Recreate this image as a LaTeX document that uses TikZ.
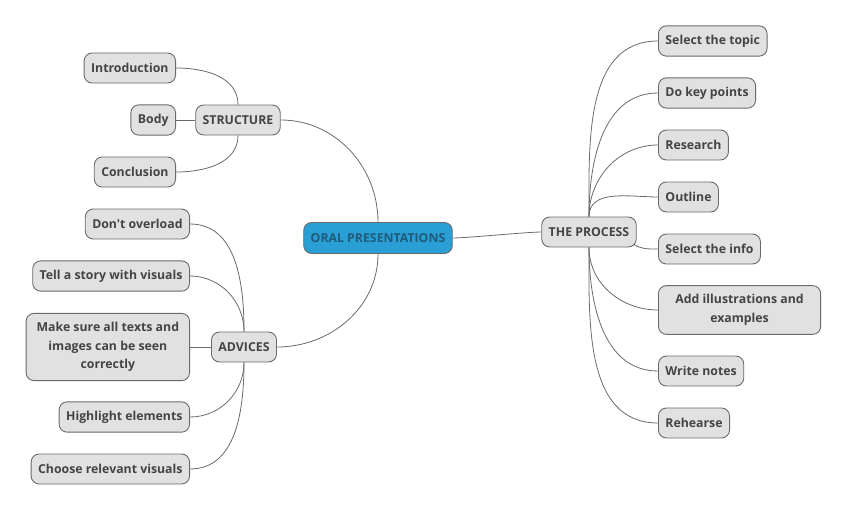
\documentclass[tikz,border=0pt]{standalone}
\usepackage{fontspec}
\setmainfont{Open Sans}[Ligatures=TeXOff]
\usepackage{tikz}
\usetikzlibrary{arrows}

\definecolor{topicblue}{HTML}{2A9FD6}
\definecolor{topictext}{HTML}{1F5B7A}
\definecolor{leafgray}{HTML}{E1E1E1}
\definecolor{edgegray}{HTML}{6A6A6A}
\definecolor{textgray}{HTML}{444444}

\begin{document}
\begin{tikzpicture}[x=1pt,y=-1pt,
  topic/.style={draw=edgegray,line width=0.9pt,fill=topicblue,rounded corners=8pt,
    text=topictext,font=\bfseries\fontsize{12.3}{14}\selectfont,minimum height=31pt,inner xsep=7pt},
  leaf/.style={draw=edgegray,line width=0.9pt,fill=leafgray,rounded corners=8pt,
    text=textgray,font=\bfseries\fontsize{12.3}{18.5}\selectfont,minimum height=30pt,
    inner xsep=7pt,inner ysep=9pt,align=center},
  link/.style={draw=edgegray,line width=0.8pt}]
  \useasboundingbox (0,0) rectangle (848,511);
  % center and main branches
  \node[topic] (oral) at (378,238) {ORAL PRESENTATIONS};
  \node[leaf] (proc) at (589,232) {THE PROCESS};
  \node[leaf] (struct) at (238,120) {STRUCTURE};
  \node[leaf] (adv) at (244,347) {ADVICES};
  % structure
  \node[leaf,anchor=east] (intro) at (176,68) {Introduction};
  \node[leaf,anchor=east] (body) at (176,120) {Body};
  \node[leaf,anchor=east] (concl) at (176,172) {Conclusion};
  % advices
  \node[leaf,anchor=east] (overload) at (190,224) {Don't overload};
  \node[leaf,anchor=east] (story) at (190,276) {Tell a story with visuals};
  \node[leaf,anchor=east,inner xsep=10.5pt] (makesure) at (190,347) {Make sure all texts and\\images can be seen\\correctly};
  \node[leaf,anchor=east] (highlight) at (190,417) {Highlight elements};
  \node[leaf,anchor=east] (choose) at (190,469) {Choose relevant visuals};
  % the process
  \node[leaf,anchor=west] (topicsel) at (658,41) {Select the topic};
  \node[leaf,anchor=west] (keypts) at (658,93) {Do key points};
  \node[leaf,anchor=west] (research) at (658,145) {Research};
  \node[leaf,anchor=west] (outline) at (658,197) {Outline};
  \node[leaf,anchor=west] (info) at (658,249) {Select the info};
  \node[leaf,anchor=west,inner xsep=17pt] (illus) at (658,310) {Add illustrations and\\examples};
  \node[leaf,anchor=west] (notes) at (658,371) {Write notes};
  \node[leaf,anchor=west] (rehearse) at (658,423) {Rehearse};

  \draw[link] (oral.east) to[out=0,in=180,looseness=0.4] (proc.west);
  \draw[link] (oral.north) to[out=90,in=0] (struct.east);
  \draw[link] (oral.south) to[out=-90,in=0] (adv.east);

  \draw[link] (struct.north) to[out=90,in=0] (intro.east);
  \draw[link] (struct.west) -- (body.east);
  \draw[link] (struct.south) to[out=-90,in=0] (concl.east);

  \draw[link] (adv.north) to[out=90,in=0] (overload.east);
  \draw[link] (adv.north) to[out=90,in=0] (story.east);
  \draw[link] (adv.west) -- (makesure.east);
  \draw[link] (adv.south) to[out=-90,in=0] (highlight.east);
  \draw[link] (adv.south) to[out=-90,in=0] (choose.east);

  \foreach \n in {topicsel,keypts,research,outline}
    \draw[link] (proc.north) to[out=90,in=180] (\n.west);
  \draw[link] (proc.south east) ++(-3,-3) to[out=-30,in=180] (info.west);
  \foreach \n in {illus,notes,rehearse}
    \draw[link] (proc.south) to[out=-90,in=180] (\n.west);
\end{tikzpicture}
\end{document}
